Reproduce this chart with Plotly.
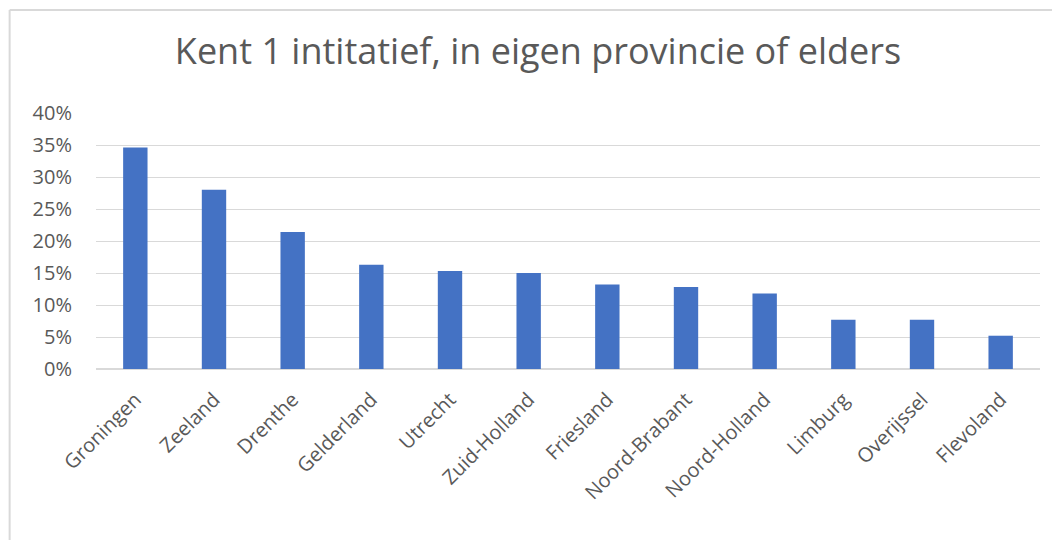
import plotly.graph_objects as go

provinces = ['Groningen', 'Zeeland', 'Drenthe', 'Gelderland', 'Utrecht', 'Zuid-Holland',
             'Friesland', 'Noord-Brabant', 'Noord-Holland', 'Limburg', 'Overijssel', 'Flevoland']
share = [0.346, 0.280, 0.214, 0.163, 0.153, 0.150, 0.132, 0.128, 0.118, 0.077, 0.077, 0.052]
ytick_vals = [0, 0.05, 0.10, 0.15, 0.20, 0.25, 0.30, 0.35, 0.40]

grey = '#595959'
bar = go.Bar(x=provinces, y=share, marker=dict(color='#4472C4', line=dict(width=0)),
             hoverinfo='x+y')

# the page body has an 8px margin, so the margins below are shifted by that much
layout = go.Layout(
  title=dict(text='Kent 1 intitatief, in eigen provincie of elders', x=0.5, xanchor='center',
             y=0.920, yanchor='middle', font=dict(family='Open Sans', size=36, color=grey)),
  width=1060, height=540,
  margin=dict(l=88, r=28, t=105, b=179),
  paper_bgcolor='white', plot_bgcolor='white',
  bargap=0.69, showlegend=False,
  font=dict(family='Open Sans', color=grey, size=20),
  xaxis=dict(tickangle=-45, showgrid=False, showline=False, ticks='', ticklabelstandoff=14,
             tickfont=dict(size=20, color=grey)),
  yaxis=dict(range=[0, 0.4], tickvals=ytick_vals, tickformat='.0%', showgrid=True,
             gridcolor='#d9d9d9', gridwidth=1, zeroline=True, zerolinecolor='#d9d9d9',
             showline=False, ticks='', ticklabelstandoff=23,
             tickfont=dict(size=20, color=grey)),
  shapes=[
    dict(type='line', xref='paper', yref='paper', x0=-0.0915, x1=-0.0915, y0=-1, y1=1.402,
         line=dict(color='#d9d9d9', width=2)),
    dict(type='line', xref='paper', yref='paper', x0=-0.0915, x1=1.1, y0=1.402, y1=1.402,
         line=dict(color='#d9d9d9', width=2)),
  ],
)

fig = go.Figure(data=[bar], layout=layout)
fig.write_html('out.html')
